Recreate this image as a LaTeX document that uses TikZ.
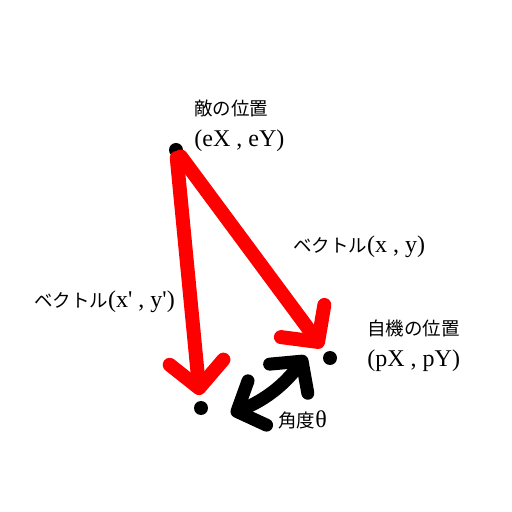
\documentclass[tikz,border=0pt]{standalone}
\usepackage{fontspec}
\setmainfont{Liberation Serif}
\newfontfamily\jp{Noto Sans CJK JP}
\usepackage{tikz}
\usetikzlibrary{arrows.meta, positioning}
\newcommand{\jtext}[1]{{\jp\fontsize{18.5}{31}\selectfont #1}}
\tikzstyle{dot} = [circle, fill=black, inner sep=0pt, minimum size=14pt]
\tikzstyle{vec} = [line width=14pt, red, line cap=round, -{Straight Barb[length=26pt, width=54pt, round]}]
\tikzstyle{ang} = [line width=13pt, black, line cap=round, {Straight Barb[length=22pt, width=48pt, round]}-{Straight Barb[length=22pt, width=48pt, round]}]
\tikzstyle{lbl} = [inner sep=0pt, align=left, font=\fontsize{24}{31}\selectfont]

\begin{document}
\begin{tikzpicture}[
				x=1pt,
				y=1pt,
				node distance=10pt
			]
			\useasboundingbox (0,0) rectangle (512,512);

			\node[dot] (enemy) at (176,362) {};
			\node[dot] (player) at (330,154) {};
			\node[dot] (turned) at (201,104) {};
			\coordinate (angA) at (231,98);
			\coordinate (angB) at (306,156);

			% Labels
			\node[lbl, right=11pt of enemy, yshift=24pt] (enemyLbl) {\jtext{敵の位置}\\(eX , eY)};
			\node[lbl, right=30pt of player, yshift=12pt] (playerLbl) {\jtext{自機の位置}\\(pX , pY)};
			\node[lbl, anchor=west] (vecLbl) at (293,265) {\jtext{ベクトル}(x , y)};
			\node[lbl, anchor=west] (turnLbl) at (34,210) {\jtext{ベクトル}(x\textquotesingle{} , y\textquotesingle)};
			\node[lbl, right=70pt of turned, yshift=-12pt] (angLbl) {\jtext{角度}θ};

			\draw[vec, shorten <=8pt, shorten >=13pt] (enemy.center) -- (player.center);
			\draw[vec, shorten <=8pt, shorten >=13pt] (enemy.center) -- (turned.center);

			% Angle between the two vectors
			\draw[ang] (angA) to[bend right=15] (angB);
		\end{tikzpicture}
\end{document}
